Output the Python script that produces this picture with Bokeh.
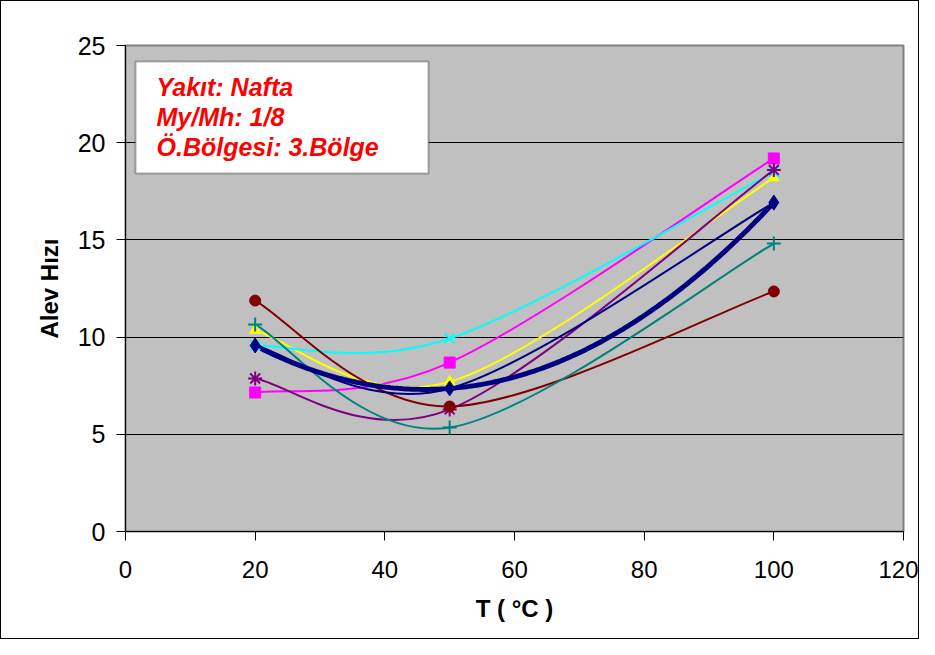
import numpy as np
from bokeh.plotting import figure
from bokeh.models import ColumnDataSource, BoxAnnotation, Label, FixedTicker
from bokeh.embed import file_html
from bokeh.resources import INLINE

# ---- data ----
T = [20, 50, 100]
navy_vals = [9.57, 7.36, 16.92]
magenta_vals = [7.15, 8.69, 19.19]
yellow_vals = [10.35, 7.70, 18.20]
cyan_vals = [9.57, 9.93, 18.50]
purple_vals = [7.87, 6.28, 18.60]
darkred_vals = [11.88, 6.43, 12.35]
teal_vals = [10.65, 5.35, 14.81]

series = [
    ("magenta", "#FF00FF", magenta_vals, "square"),
    ("yellow", "#FFFF00", yellow_vals, "triangle"),
    ("cyan", "#00FFFF", cyan_vals, "x"),
    ("purple", "#800080", purple_vals, "asterisk"),
    ("darkred", "#800000", darkred_vals, "circle"),
    ("teal", "#008080", teal_vals, "cross"),
    ("navy", "#000080", navy_vals, "diamond"),
]

x_ticks = [0, 20, 40, 60, 80, 100, 120]
y_ticks = [0, 5, 10, 15, 20, 25]
info_lines = ["Yakıt: Nafta", "My/Mh: 1/8", "Ö.Bölgesi: 3.Bölge"]

W, H = 919, 639
FL, FT, FR, FB = 124, 44, 902, 530   # frame edges in figure pixels
FH = FB - FT
p = figure(width=W, height=H, output_backend="svg", toolbar_location=None,
           x_range=(0, 120), y_range=(0, 25),
           min_border_left=FL, min_border_right=W - FR, min_border_top=FT,
           min_border_bottom=H - FB)
p.styles = {"border": "1px solid black", "box-sizing": "border-box"}
p.background_fill_color = "#C0C0C0"
p.border_fill_color = "white"
p.outline_line_color = "#808080"
p.outline_line_width = 2

p.xgrid.visible = False
p.ygrid.grid_line_color = "black"
p.ygrid.grid_line_width = 1
p.ygrid.ticker = FixedTicker(ticks=y_ticks)

p.xaxis.ticker = FixedTicker(ticks=x_ticks)
p.yaxis.ticker = FixedTicker(ticks=y_ticks)
for ax in (p.xaxis, p.yaxis):
    ax.axis_line_color = "black"
    ax.major_tick_line_color = "black"
    ax.major_tick_out = 9
    ax.major_tick_in = 0
    ax.minor_tick_line_color = None
    ax.major_label_text_font = "Liberation Sans"
    ax.major_label_text_color = "black"
    ax.axis_label_text_font = "Liberation Sans"
    ax.axis_label_text_font_style = "bold"
    ax.axis_label_text_font_size = "24px"
    ax.axis_label_text_color = "black"
p.yaxis.major_label_text_font_size = "25px"
p.xaxis.major_label_text_font_size = "24px"
p.yaxis.major_label_standoff = 11
p.xaxis.major_label_standoff = 20
p.yaxis.axis_label = "Alev Hızı"
p.xaxis.axis_label = "T ( °C )"
p.yaxis.axis_label_standoff = 12
p.xaxis.axis_label_standoff = 14


def smooth_segments(xs, ys, k=1.0 / 6.0):
    xs = np.asarray(xs, float)
    ys = np.asarray(ys, float)
    n = len(xs)
    d = dict(x0=[], y0=[], x1=[], y1=[], cx0=[], cy0=[], cx1=[], cy1=[])
    for i in range(n - 1):
        im1 = max(i - 1, 0)
        ip2 = min(i + 2, n - 1)
        d["x0"].append(xs[i]); d["y0"].append(ys[i])
        d["x1"].append(xs[i + 1]); d["y1"].append(ys[i + 1])
        d["cx0"].append(xs[i] + (xs[i + 1] - xs[im1]) * k)
        d["cy0"].append(ys[i] + (ys[i + 1] - ys[im1]) * k)
        d["cx1"].append(xs[i + 1] - (xs[ip2] - xs[i]) * k)
        d["cy1"].append(ys[i + 1] - (ys[ip2] - ys[i]) * k)
    return ColumnDataSource(d)


# polynomial trendline for navy series (thick)
coef = np.polyfit(T, navy_vals, 2)
tx = np.linspace(min(T), max(T), 200)
ty = np.polyval(coef, tx)

for name, color, vals, marker in series:
    src = smooth_segments(T, vals)
    p.bezier(x0="x0", y0="y0", x1="x1", y1="y1", cx0="cx0", cy0="cy0",
             cx1="cx1", cy1="cy1", source=src, line_color=color, line_width=2)
    if name == "navy":
        p.line(tx, ty, line_color=color, line_width=5)

for name, color, vals, marker in series:
    size = 11
    lw = 1
    if marker in ("x", "asterisk", "cross"):
        size = 14
        lw = 2
    if marker == "diamond":
        size = 15
    p.scatter(T, vals, marker=marker, size=size, fill_color=color,
              line_color=color, line_width=lw)

# info box (screen units are relative to the plot frame, y from its bottom)
box = BoxAnnotation(left=134 - FL, right=427 - FL, top=FH - (60 - FT), bottom=FH - (172 - FT),
                    left_units="screen", right_units="screen",
                    top_units="screen", bottom_units="screen",
                    fill_color="white", fill_alpha=1.0,
                    line_color="black", line_width=2)
p.add_layout(box)
for i, t in enumerate(info_lines):
    p.add_layout(Label(x=155 - FL, y=FH - (85 - FT) - 30 * i, x_units="screen", y_units="screen",
                       text=t, text_font="Liberation Sans", text_font_style="bold italic",
                       text_font_size="25px", text_color="#FF0000",
                       text_baseline="alphabetic"))

open("out.html", "w").write(file_html(p, INLINE))
